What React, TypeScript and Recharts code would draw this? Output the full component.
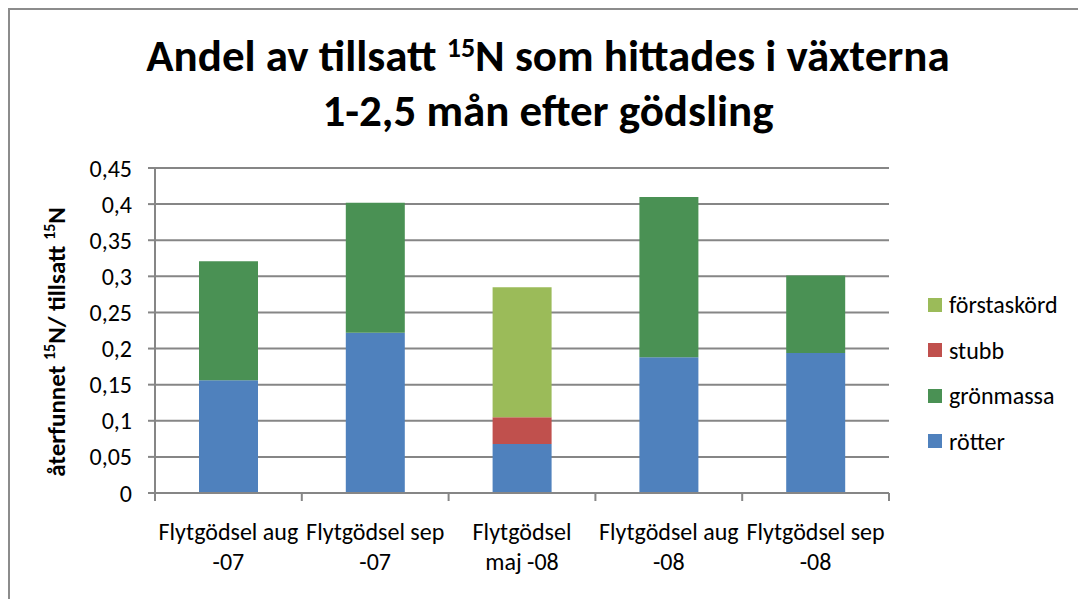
import { BarChart, Bar, XAxis, YAxis, CartesianGrid } from 'recharts';

const categoryLine1 = ['Flytgödsel aug', 'Flytgödsel sep', 'Flytgödsel', 'Flytgödsel aug', 'Flytgödsel sep'];
const categoryLine2 = ['-07', '-07', 'maj -08', '-08', '-08'];

const rotter = [0.156, 0.222, 0.068, 0.188, 0.194];
const gronmassa = [0.165, 0.18, 0, 0.222, 0.107];
const stubb = [0, 0, 0.037, 0, 0];
const forstaskord = [0, 0, 0.18, 0, 0];

const yTicks = [0, 0.05, 0.1, 0.15, 0.2, 0.25, 0.3, 0.35, 0.4, 0.45];

const seriesInfo = [
  { key: 'rotter', name: 'rötter', color: '#4F81BD' },
  { key: 'gronmassa', name: 'grönmassa', color: '#4A9154' },
  { key: 'stubb', name: 'stubb', color: '#C0504D' },
  { key: 'forstaskord', name: 'förstaskörd', color: '#9BBB59' },
];

const FONT = 'Carlito, Calibri, Lato, "Open Sans", sans-serif';
const AXIS_GRAY = '#868686';

const chartData = categoryLine1.map((label, i) => ({
  label,
  sub: categoryLine2[i],
  rotter: rotter[i],
  gronmassa: gronmassa[i],
  stubb: stubb[i],
  forstaskord: forstaskord[i],
}));

const PLOT_LEFT = 155;
const PLOT_RIGHT = 889;
const PLOT_TOP = 168;
const PLOT_BOTTOM = 493;
const BAND = (PLOT_RIGHT - PLOT_LEFT) / categoryLine1.length;

function formatTick(v: number): string {
  return String(Number(v.toFixed(2))).replace('.', ',');
}

function CategoryTick(props: any) {
  const { x, y, payload, index } = props;
  const i = payload.index ?? index;
  const lastIdx = chartData.length - 1;
  return (
    <g>
      <line x1={x - BAND / 2} x2={x - BAND / 2} y1={y - 8} y2={y} stroke={AXIS_GRAY} strokeWidth={2} />
      {i === lastIdx && (
        <line x1={x + BAND / 2} x2={x + BAND / 2} y1={y - 8} y2={y} stroke={AXIS_GRAY} strokeWidth={2} />
      )}
      <text x={x} y={y + 39} textAnchor="middle" fontSize={24} fill="#000" fontFamily={FONT}>
        {categoryLine1[i]}
      </text>
      <text x={x} y={y + 69} textAnchor="middle" fontSize={24} fill="#000" fontFamily={FONT}>
        {categoryLine2[i]}
      </text>
    </g>
  );
}

function ChartLegend() {
  const items = [...seriesInfo].reverse();
  return (
    <div style={{ position: 'absolute', left: 928, top: 282, fontFamily: FONT, fontSize: 24, color: '#000' }}>
      {items.map(s => (
        <div key={s.key} style={{ display: 'flex', alignItems: 'center', height: 45.5, whiteSpace: 'nowrap' }}>
          <span style={{ width: 14, height: 14, background: s.color, display: 'inline-block', marginRight: 7 }} />
          <span>{s.name}</span>
        </div>
      ))}
    </div>
  );
}

export default function App() {
  return (
    <div style={{ position: 'absolute', left: 0, top: 0, width: 1078, height: 599, overflow: 'hidden', background: '#fff' }}>
      <div style={{ position: 'absolute', left: 8, top: 8, width: 1100, height: 620, borderTop: '2px solid #8c8c8c', borderLeft: '2px solid #8c8c8c' }} />
      <div style={{ position: 'absolute', left: 0, top: 28, width: 1096, textAlign: 'center', fontFamily: FONT, fontWeight: 700, fontSize: 45, lineHeight: '55px', color: '#000' }}>
        <div>Andel av tillsatt <sup style={{ fontSize: 28, verticalAlign: 'top', lineHeight: '40px' }}>15</sup>N som hittades i växterna</div>
        <div>1-2,5 mån efter gödsling</div>
      </div>
      <div style={{ position: 'absolute', left: 56, top: 342, transform: 'translate(-50%, -50%) rotate(-90deg)', whiteSpace: 'nowrap', fontFamily: FONT, fontWeight: 700, fontSize: 25, color: '#000' }}>
        återfunnet <sup style={{ fontSize: 16, verticalAlign: 'top', lineHeight: '18px' }}>15</sup>N/ tillsatt <sup style={{ fontSize: 16, verticalAlign: 'top', lineHeight: '18px' }}>15</sup>N
      </div>
      <div style={{ position: 'absolute', left: 0, top: 0 }}>
        <BarChart
          width={1078}
          height={599}
          data={chartData}
          margin={{ top: PLOT_TOP, right: 1078 - PLOT_RIGHT, bottom: 599 - PLOT_BOTTOM - 80, left: PLOT_LEFT - 70 }}
        >
          <CartesianGrid vertical={false} stroke={AXIS_GRAY} strokeWidth={2} />
          <XAxis
            dataKey="label"
            height={80}
            axisLine={{ stroke: AXIS_GRAY, strokeWidth: 2 }}
            tickLine={false}
            interval={0}
            tick={<CategoryTick />}
          />
          <YAxis
            width={70}
            domain={[0, 0.45]}
            ticks={yTicks}
            tickFormatter={formatTick}
            axisLine={{ stroke: AXIS_GRAY, strokeWidth: 2 }}
            tickLine={{ stroke: AXIS_GRAY, strokeWidth: 2 }}
            tickSize={7}
            tickMargin={16}
            tick={{ fontSize: 24, fill: '#000', fontFamily: FONT }}
          />
          {seriesInfo.map(s => (
            <Bar key={s.key} dataKey={s.key} name={s.name} stackId="a" fill={s.color} barSize={59} isAnimationActive={false} />
          ))}
        </BarChart>
      </div>
      <ChartLegend />
    </div>
  );
}
